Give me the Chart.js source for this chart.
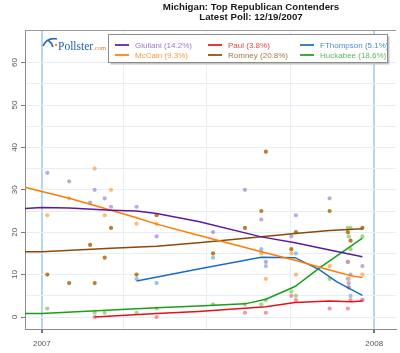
<!DOCTYPE html>
<html lang="en">
<head>
<meta charset="UTF-8">
<title>Michigan: Top Republican Contenders</title>
<script src="https://cdn.jsdelivr.net/npm/chart.js"></script>
<style>
  body { margin: 0; background: #fff; }
  canvas { display: block; }
</style>
</head>
<body>
<canvas id="pollChart" width="400" height="353"></canvas>
<script>
// x values are days counted from 1 Jan 2007
const candidates = ['Giuliani', 'McCain', 'Paul', 'Romney', 'FThompson', 'Huckabee'];
const latest = [14.2, 9.3, 3.8, 20.8, 5.1, 18.6];

// single polls [day, %]
const giulianiPolls = [[6,34],[30,32],[53,27],[58,30],[69,28],[76,26],[104,26],[126,19],[188,20],[223,30],[241,23],[246,13],[274,19],[279,24],[316,28],[336,13],[337,8],[339,10],[352,12]];
const mccainPolls = [[6,24],[30,28],[58,35],[69,24],[76,30],[104,22],[126,22],[241,15],[246,9],[274,15],[279,10],[316,12],[336,13],[337,9],[352,10]];
const paulPolls = [[58,0],[126,0],[223,1],[246,1],[274,5],[279,4],[316,2],[336,2],[337,7],[339,4],[352,4]];
const romneyPolls = [[6,10],[30,8],[53,17],[58,8],[69,14],[76,21],[104,10],[126,24],[188,15],[223,21],[241,25],[246,39],[274,16],[279,20],[316,25],[336,20],[339,18],[352,21]];
const thompsonPolls = [[104,9],[126,8],[188,14],[241,16],[246,12],[279,15],[336,9],[337,7],[339,5],[352,4]];
const huckabeePolls = [[6,2],[58,1],[69,1],[104,1],[126,2],[188,3],[223,3],[241,3],[246,4],[274,6],[279,5],[316,9],[336,21],[337,19],[339,21],[339,16],[352,19]];

// trend estimates [day, %]
const giulianiTrend = [[-18.5,25.6],[0,25.8],[30,25.7],[76,25.2],[104,25.0],[126,24.4],[172,22.5],[241,18.9],[278,17.5],[316,15.8],[352,14.2]];
const mccainTrend = [[-18.5,30.6],[0,29.6],[30,28.0],[76,25.2],[104,23.4],[126,21.9],[172,19.3],[241,15.4],[278,13.4],[316,11.1],[340,9.7],[352,9.3]];
const paulTrend = [[58,0],[126,0.8],[172,1.3],[246,2.4],[278,3.4],[316,3.8],[340,3.6],[352,3.8]];
const romneyTrend = [[-18.5,15.4],[0,15.4],[76,16.2],[126,16.7],[172,17.5],[241,18.9],[278,19.7],[316,20.4],[352,20.8]];
const thompsonTrend = [[104,8.5],[172,11.3],[241,14.1],[278,14.0],[305,11.1],[324,8.3],[352,5.1]];
const huckabeeTrend = [[-18.5,0.8],[0,0.8],[126,2.2],[172,2.6],[223,3.1],[246,4.2],[278,7.2],[305,11.6],[352,18.6]];

const yTicks = [0, 5, 10, 15, 20, 25, 30, 35, 40, 45, 50, 55, 60];
const xTicks = [0, 90, 181, 273, 365];
const yearLabels = { 0: '2007', 365: '2008' };

const lineColors = ['#5b1a9e', '#ff7b00', '#e8101a', '#8b4a08', '#1a6cc0', '#18a018'];
const dotColors = ['rgba(175,145,215,0.8)', 'rgba(255,170,80,0.8)', 'rgba(240,125,135,0.8)', 'rgba(176,112,30,0.9)', 'rgba(135,185,225,0.85)', 'rgba(145,208,115,0.85)'];
const textColors = ['#9a78c8', '#f59a48', '#e84848', '#a0784a', '#4a90d0', '#5cb85c'];

const polls = [giulianiPolls, mccainPolls, paulPolls, romneyPolls, thompsonPolls, huckabeePolls];
const trends = [giulianiTrend, mccainTrend, paulTrend, romneyTrend, thompsonTrend, huckabeeTrend];
const toXY = arr => arr.map(p => ({ x: p[0], y: p[1] }));

const datasets = [];
candidates.forEach((name, i) => {
    datasets.push({
        label: name + ' (' + latest[i].toFixed(1) + '%)',
        data: toXY(trends[i]),
        showLine: true,
        borderColor: lineColors[i],
        borderWidth: 1.5,
        pointRadius: 0,
        order: 0
    });
});
candidates.forEach((name, i) => {
    datasets.push({
        label: name + ' polls',
        data: toXY(polls[i]),
        showLine: false,
        pointRadius: 2.1,
        pointBorderWidth: 0,
        pointBackgroundColor: dotColors[i],
        order: 1
    });
});

const sans = '"Liberation Sans", Arial, sans-serif';
const isYear = c => c.tick && yearLabels[c.tick.value] !== undefined;

const decor = {
    id: 'decor',
    afterDraw(chart) {
        const ctx = chart.ctx;
        const a = chart.chartArea;
        ctx.save();
        // top frame line
        ctx.strokeStyle = '#9a9a9a';
        ctx.lineWidth = 1;
        ctx.beginPath();
        ctx.moveTo(a.left, a.top + 0.5);
        ctx.lineTo(a.right, a.top + 0.5);
        ctx.stroke();

        // title
        ctx.fillStyle = '#1a1a1a';
        ctx.font = 'bold 9.7px ' + sans;
        ctx.textAlign = 'center';
        ctx.textBaseline = 'middle';
        ctx.fillText('Michigan: Top Republican Contenders', 251, 7.5);
        ctx.fillText('Latest Poll: 12/19/2007', 251, 17.5);

        // pollster logo
        ctx.strokeStyle = '#2a6ab8';
        ctx.lineWidth = 1.6;
        ctx.beginPath();
        ctx.moveTo(43, 46);
        ctx.quadraticCurveTo(47, 37, 57, 39);
        ctx.stroke();
        ctx.beginPath();
        ctx.moveTo(48, 40);
        ctx.quadraticCurveTo(52, 43, 53, 47);
        ctx.stroke();
        ctx.fillStyle = '#f0962a';
        ctx.beginPath();
        ctx.arc(56, 45, 1.3, 0, Math.PI * 2);
        ctx.fill();
        ctx.fillStyle = '#2262b0';
        ctx.textAlign = 'left';
        ctx.textBaseline = 'alphabetic';
        ctx.font = '11.5px "Liberation Serif", serif';
        ctx.fillText('Pollster', 58, 50);
        const w = ctx.measureText('Pollster').width;
        ctx.font = '6.5px "Liberation Serif", serif';
        ctx.fillStyle = '#e07a2a';
        ctx.fillText('.com', 58 + w, 50);

        // legend box
        ctx.fillStyle = '#c4c4c4';
        ctx.fillRect(110.5, 36.5, 279, 28);
        ctx.fillStyle = '#fff';
        ctx.fillRect(108.5, 34.5, 279, 28);
        ctx.strokeStyle = '#8c8c8c';
        ctx.lineWidth = 1;
        ctx.strokeRect(108.5, 34.5, 279, 28);
        const colX = [115, 208, 300];
        const rowY = [45, 55];
        ctx.font = '8px ' + sans;
        ctx.textBaseline = 'middle';
        candidates.forEach((name, i) => {
            const x = colX[Math.floor(i / 2)];
            const y = rowY[i % 2];
            ctx.strokeStyle = lineColors[i];
            ctx.lineWidth = 1.7;
            ctx.beginPath();
            ctx.moveTo(x, y);
            ctx.lineTo(x + 14, y);
            ctx.stroke();
            ctx.fillStyle = textColors[i];
            ctx.fillText(chart.data.datasets[i].label, x + 20, y + 0.5);
        });
        ctx.restore();
    }
};

new Chart(document.getElementById('pollChart'), {
    type: 'scatter',
    data: { datasets: datasets },
    options: {
        responsive: false,
        animation: false,
        devicePixelRatio: 1,
        layout: { padding: { top: 30, left: 0, right: 0, bottom: 0 } },
        plugins: { legend: { display: false }, tooltip: { enabled: false }, title: { display: false } },
        scales: {
            x: {
                type: 'linear',
                min: -18.5,
                max: 388.9,
                afterBuildTicks: s => { s.ticks = xTicks.map(v => ({ value: v })); },
                afterFit: s => { s.height = 24; },
                grid: {
                    color: c => isYear(c) ? '#b7d6ee' : '#e8eef6',
                    lineWidth: c => isYear(c) ? 2 : 1,
                    tickColor: c => isYear(c) ? '#777' : 'rgba(0,0,0,0)',
                    tickLength: 4
                },
                border: { color: '#8a8a8a', width: 1 },
                ticks: {
                    autoSkip: false,
                    maxRotation: 0,
                    padding: 6,
                    color: '#555',
                    font: { family: sans, size: 8 },
                    callback: v => yearLabels[v] || ''
                }
            },
            y: {
                min: -2.83,
                max: 67.69,
                afterBuildTicks: s => { s.ticks = yTicks.map(v => ({ value: v })); },
                afterFit: s => { s.width = 25; },
                grid: {
                    color: '#e8eef6',
                    tickColor: c => c.tick && c.tick.value % 10 === 0 ? '#777' : 'rgba(0,0,0,0)',
                    tickLength: 4
                },
                border: { color: '#8a8a8a', width: 1 },
                ticks: {
                    minRotation: 90,
                    maxRotation: 90,
                    crossAlign: 'center',
                    padding: 2,
                    color: '#555',
                    font: { family: sans, size: 8 },
                    callback: v => v % 10 === 0 ? v : ''
                }
            }
        }
    },
    plugins: [decor]
});
</script>
</body>
</html>
